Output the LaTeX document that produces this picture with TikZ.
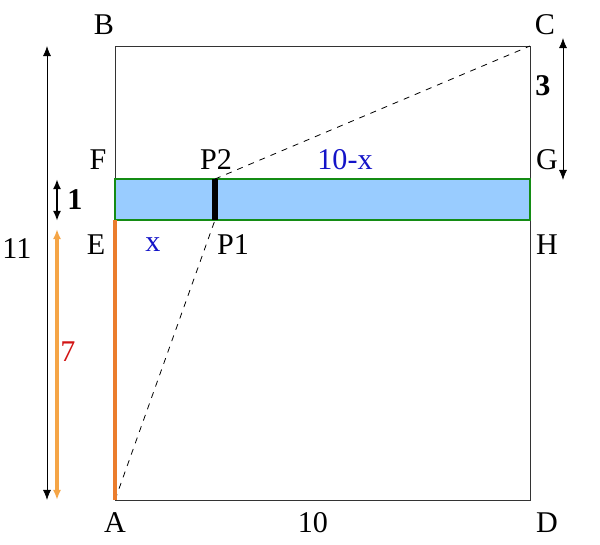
\documentclass[tikz,border=0pt]{standalone}
\usepackage{fontspec}
\setmainfont{Liberation Serif}
\usetikzlibrary{arrows.meta}
\definecolor{bandblue}{RGB}{153,204,255}
\definecolor{bandgreen}{RGB}{20,140,20}
\definecolor{sideorange}{RGB}{235,125,45}
\definecolor{arroworange}{RGB}{245,165,70}
\definecolor{txtblue}{RGB}{20,20,200}
\definecolor{txtred}{RGB}{210,20,20}

\begin{document}
\begin{tikzpicture}[x=0.0175cm,y=-0.0175cm]
\tikzstyle{every node}+=[inner sep=0pt,font=\fontsize{15}{18}\selectfont]
\tikzstyle{dim}=[{Latex[length=5pt,width=4pt]}-{Latex[length=5pt,width=4pt]}]
\useasboundingbox (0,0) rectangle (600,545);

% corners
\coordinate (A) at (115,500);
\coordinate (B) at (115,46);
\coordinate (C) at (530,46);
\coordinate (D) at (530,500);
\coordinate (E) at (115,220);
\coordinate (F) at (115,179);
\coordinate (G) at (530,179);
\coordinate (H) at (530,220);
\coordinate (P1) at (215,220);
\coordinate (P2) at (215,179);

% square and band
\draw [black!80] (A) -- (B) -- (C) -- (D) -- cycle;
\draw [bandgreen,fill=bandblue,line width=1.3pt] (F) rectangle (H);
\draw [line width=2.5pt] (P1) -- (P2);
\draw [dashed] (A) -- (P1);
\draw [dashed] (P2) -- (C);
\draw [sideorange,line width=1.5pt] (A) -- (E);

% dimension arrows
\coordinate (t11) at (47,46);
\coordinate (b11) at (47,500);
\draw [dim] (t11) -- (b11);
\coordinate (t7) at (57,229);
\coordinate (b7) at (57,500);
\draw [dim,arroworange,line width=1.5pt] (t7) -- (b7);
\coordinate (t1) at (57,179);
\coordinate (b1) at (57,221);
\draw [dim,line width=1.2pt] (t1) -- (b1);
\coordinate (t3) at (563,38);
\coordinate (b3) at (563,180);
\draw [dim] (t3) -- (b3);

% labels
\node (lB) at (104,25) {B};
\node (lC) at (545,25) {C};
\node (lF) at (98,160) {F};
\node (lP2) at (216,160) {P2};
\node (l10x) [txtblue] at (345,160) {10-x};
\node (lG) at (547,160) {G};
\node (lE) at (96,245) {E};
\node (lx) [txtblue] at (153,245) {x};
\node (lP1) at (233,245) {P1};
\node (lH) at (547,245) {H};
\node (lA) at (115,523) {A};
\node (l10) at (313,523) {10};
\node (lD) at (547,523) {D};
\node (l3) at (543,86) {\textbf{3}};
\node (l11) at (17,249) {11};
\node (l1) at (75,200) {\textbf{1}};
\node (l7) [txtred] at (68,352) {7};
\end{tikzpicture}
\end{document}
